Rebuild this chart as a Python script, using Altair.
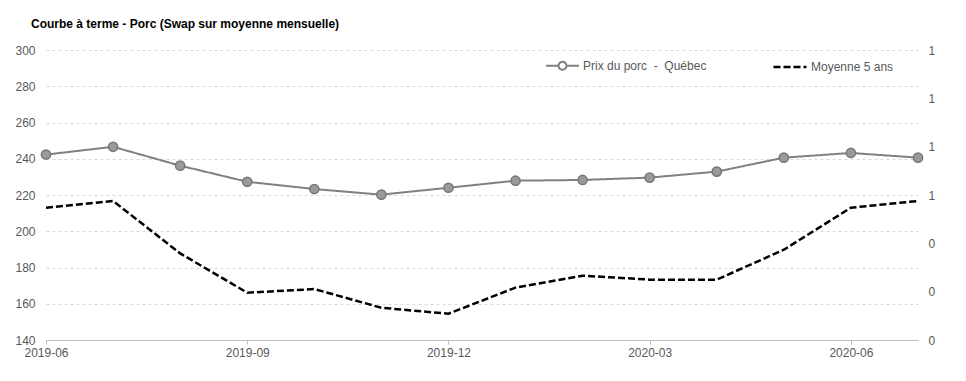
import altair as alt
import pandas as pd

months = ["2019-06", "2019-07", "2019-08", "2019-09", "2019-10", "2019-11", "2019-12",
          "2020-01", "2020-02", "2020-03", "2020-04", "2020-05", "2020-06", "2020-07"]
prix = [242.3, 246.6, 236.2, 227.3, 223.3, 220.2, 224.0,
        227.9, 228.3, 229.6, 232.9, 240.6, 243.2, 240.6]
moyenne = [213.0, 216.7, 187.8, 166.1, 168.1, 157.8, 154.5,
           168.9, 175.5, 173.3, 173.3, 189.8, 213.0, 216.7]
series_names = ["Prix du porc \u00a0-\u00a0 Québec", "Moyenne 5 ans"]
x_ticks = ["2019-06", "2019-09", "2019-12", "2020-03", "2020-06"]
left_ticks = [140, 160, 180, 200, 220, 240, 260, 280, 300]
right_ticks = [0, 0.2, 0.4, 0.6, 0.8, 1.0, 1.2]

rows = []
for m, p in zip(months, prix):
    rows.append({"month": m, "value": p, "series": series_names[0]})
for m, v in zip(months, moyenne):
    rows.append({"month": m, "value": v, "series": series_names[1]})
df = pd.DataFrame(rows)
df_right = pd.DataFrame({"r": right_ticks})

GRAY_TXT = "#595959"
PATH_CIRCLE = ("M-1,0H-0.24M0.24,0H1M-0.24,0A0.24,0.24,0,1,0,0.24,0"
               "A0.24,0.24,0,1,0,-0.24,0Z")
PATH_LINE = "M-1,0H1"

leg = alt.Legend(
    title=None, orient="none", legendX=499, legendY=-2, direction="horizontal",
    labelFontSize=12, labelColor=GRAY_TXT, labelOffset=3, columnPadding=61,
    symbolSize=1089, symbolStrokeWidth=2, symbolOpacity=1,
    symbolFillColor="transparent",
)

x_enc = alt.X(
    "month:O",
    scale=alt.Scale(type="point", padding=0),
    axis=alt.Axis(values=x_ticks, labelAngle=0, title=None, labelFontSize=12,
                  labelColor=GRAY_TXT, domainColor="#bfbfbf", tickColor="#bfbfbf",
                  tickSize=4, labelPadding=3, grid=False),
)
y_enc = alt.Y(
    "value:Q",
    scale=alt.Scale(domain=[140, 300], nice=False, zero=False),
    axis=alt.Axis(values=left_ticks, title=None, grid=True, gridDash=[3, 3],
                  gridColor="#d9d9d9", domain=False, ticks=False, labelPadding=11,
                  labelFontSize=12, labelColor=GRAY_TXT),
)

lines = alt.Chart(df).mark_line().encode(
    x=x_enc,
    y=y_enc,
    color=alt.Color("series:N", scale=alt.Scale(domain=series_names, range=["#808080", "#000000"]), legend=leg),
    strokeDash=alt.StrokeDash("series:N", scale=alt.Scale(domain=series_names, range=[[1, 0], [7, 3]]), legend=leg),
    strokeWidth=alt.StrokeWidth("series:N", scale=alt.Scale(domain=series_names, range=[2, 2.5]), legend=None),
)

shape_layer = alt.Chart(df).mark_point(opacity=0).encode(
    x=x_enc,
    y=y_enc,
    shape=alt.Shape("series:N", scale=alt.Scale(domain=series_names, range=[PATH_CIRCLE, PATH_LINE]), legend=leg),
)

points = alt.Chart(df).transform_filter(
    alt.datum.series == series_names[0]
).mark_point(filled=True, size=85, fill="#9a9a9a", stroke="#777777", strokeWidth=1.5, opacity=1).encode(
    x=x_enc,
    y=y_enc,
)

right = alt.Chart(df_right).mark_point(opacity=0).encode(
    y=alt.Y("r:Q", scale=alt.Scale(domain=[0, 1.2], nice=False, zero=False),
            axis=alt.Axis(orient="right", values=right_ticks, format=".0f", grid=False,
                          domain=False, ticks=False, labelPadding=10, title=None,
                          labelFontSize=12, labelColor=GRAY_TXT)),
)

chart = alt.layer(
    alt.layer(lines, shape_layer, points),
    right,
).resolve_scale(y="independent").properties(
    width=872,
    height=290,
    padding={"left": 38, "top": 42, "right": 40, "bottom": 33},
    autosize=alt.AutoSizeParams(type="none"),
    title=alt.TitleParams(
        "Courbe à terme - Porc (Swap sur moyenne mensuelle)",
        anchor="start", dx=16, offset=13, fontSize=12, fontWeight="bold", color="#000000",
        font="Liberation Sans",
    ),
).configure(font="Liberation Sans").configure_view(stroke=None)

chart.save("out.html", embed_options={"renderer": "svg", "actions": False})
